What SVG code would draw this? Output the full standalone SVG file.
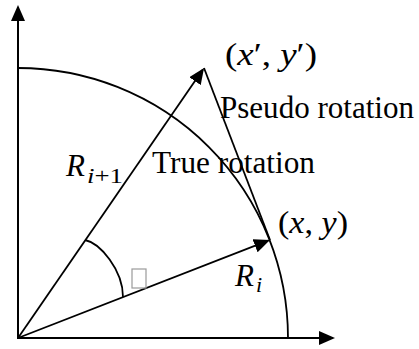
<svg xmlns="http://www.w3.org/2000/svg" width="419" height="349" viewBox="0 0 419 349">
  <style>
    .ln { fill: none; stroke: #000; stroke-width: 2; }
    .thin { fill: none; stroke: #000; stroke-width: 1.8; }
    .lbl { font-family: "Liberation Serif", "Times New Roman", serif; font-size: 31px; fill: #000; }
    .math { font-family: "Liberation Serif", "Times New Roman", serif; font-size: 31px; fill: #000; }
    .it { font-style: italic; }
    .sub { font-size: 22px; }
  </style>
  <defs>
    <marker id="arrow" markerUnits="userSpaceOnUse" markerWidth="16" markerHeight="14" refX="14" refY="7" orient="auto">
      <path d="M0,0 L16,7 L0,14 z" fill="#000"/>
    </marker>
  </defs>

  <g id="connectors">
    <line id="y-axis" class="ln" x1="18" y1="339" x2="18" y2="7" marker-end="url(#arrow)"/>
    <line id="x-axis" class="ln" x1="17" y1="338" x2="333" y2="338" marker-end="url(#arrow)"/>
    <path id="circle-arc" class="thin" d="M18,68 A270,270 0 0 1 288,338"/>
    <line id="vec-r-i1" class="thin" x1="18" y1="338" x2="202.9" y2="69.6" marker-end="url(#arrow)"/>
    <line id="vec-r-i" class="thin" x1="18" y1="338" x2="268.1" y2="240.7" marker-end="url(#arrow)"/>
    <line id="pseudo-line" class="thin" x1="204" y1="68" x2="270" y2="240"/>
    <path id="angle-arc" class="thin" d="M85,240 C100,243 123,270 123,297"/>
  </g>

  <g id="node-angle-symbol">
    <rect x="132" y="269" width="14" height="19" fill="none" stroke="#9a9a9a" stroke-width="1.2"/>
  </g>

  <g id="node-xp-yp">
    <text class="math" x="225" y="65" textLength="92" lengthAdjust="spacingAndGlyphs">(<tspan class="it">x</tspan>′, <tspan class="it">y</tspan>′)</text>
  </g>

  <g id="node-x-y">
    <text class="math" x="278" y="233" textLength="70" lengthAdjust="spacingAndGlyphs">(<tspan class="it">x</tspan>, <tspan class="it">y</tspan>)</text>
  </g>

  <g id="node-pseudo">
    <text class="lbl" x="220" y="117.5" textLength="194" lengthAdjust="spacingAndGlyphs">Pseudo rotation</text>
  </g>

  <g id="node-true">
    <text class="lbl" x="152" y="172.5" textLength="163" lengthAdjust="spacingAndGlyphs">True rotation</text>
  </g>

  <g id="node-r-i1">
    <text class="math it" x="66" y="176">R</text>
    <text class="math sub" x="87" y="183" textLength="36" lengthAdjust="spacingAndGlyphs"><tspan class="it">i</tspan>+1</text>
  </g>

  <g id="node-r-i">
    <text class="math it" x="235" y="286">R</text>
    <text class="math sub it" x="256" y="292">i</text>
  </g>
</svg>
